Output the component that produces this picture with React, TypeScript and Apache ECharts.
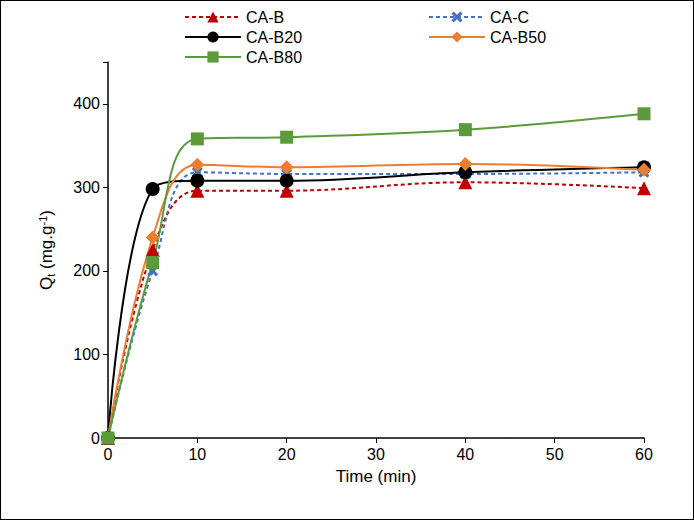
import React, { useEffect, useRef } from "react";
import * as echarts from "echarts";

const times = [0, 5, 10, 20, 40, 60];
const caB = [0, 225, 296, 296, 306, 299];
const caC = [0, 200, 318, 316, 316, 318];
const caB20 = [0, 298, 308, 308, 318, 324];
const caB50 = [0, 240, 327, 324, 328, 321];
const caB80 = [0, 210, 358, 360, 369, 388];
const crossPath = "path://M0,2L2,0L5,3L8,0L10,2L7,5L10,8L8,10L5,7L2,10L0,8L3,5Z";

export default function App() {
  const ref = useRef<HTMLDivElement>(null);
  useEffect(() => {
    const chart = echarts.init(ref.current!, null, { renderer: "svg" });
    const mk = (name: string, vals: number[], color: string, symbol: string, dashed: boolean, size: number) => ({
      name, type: "line", smooth: 0.4, data: times.map((t, i) => [t, vals[i]]),
      symbol, symbolSize: size, itemStyle: { color },
      lineStyle: { color, width: 2, type: dashed ? [4, 3] : "solid" },
    });
    const legendBase = {
      orient: "vertical", itemWidth: 56, itemHeight: 14, itemGap: 4,
      textStyle: { fontFamily: "Liberation Sans, Arial", fontSize: 16, color: "#000" },
    };
    chart.setOption({
      animation: false,
      textStyle: { fontFamily: "Liberation Sans, Arial" },
      legend: [
        { ...legendBase, left: 178, top: 3, data: ["CA-B", "CA-B20", "CA-B80"] },
        { ...legendBase, left: 422, top: 3, data: ["CA-C", "CA-B50"] },
      ],
      grid: { left: 107, right: 49, top: 61, bottom: 81 },
      xAxis: {
        type: "value", min: 0, max: 60, interval: 10,
        name: "Time (min)", nameLocation: "middle", nameGap: 30,
        nameTextStyle: { fontSize: 17, color: "#000" },
        axisLine: { lineStyle: { color: "#000", width: 1.5 } },
        axisTick: { show: true, lineStyle: { color: "#000" } },
        axisLabel: { fontSize: 16, color: "#000" },
        splitLine: { show: false },
      },
      yAxis: {
        type: "value", min: 0, max: 450, interval: 100,
        name: "Q{sub|t} (mg.g{sup|-1})", nameLocation: "middle", nameGap: 52,
        nameTextStyle: {
          fontSize: 17, color: "#000",
          rich: {
            sub: { fontSize: 11, verticalAlign: "bottom", padding: [8, 0, 0, 0], color: "#000" },
            sup: { fontSize: 11, verticalAlign: "top", padding: [0, 0, 8, 0], color: "#000" },
          },
        },
        axisLine: { show: true, lineStyle: { color: "#000", width: 1.5 } },
        axisTick: { show: true, lineStyle: { color: "#000" } },
        axisLabel: {
          fontSize: 16, color: "#000",
          formatter: (v: number) => (v <= 400 ? String(v) : ""),
        },
        splitLine: { show: false },
      },
      series: [
        mk("CA-B", caB, "#C00000", "triangle", true, 14),
        mk("CA-C", caC, "#4472C4", crossPath, true, 11),
        mk("CA-B20", caB20, "#000000", "circle", false, 14),
        mk("CA-B50", caB50, "#ED7D31", "diamond", false, 14),
        mk("CA-B80", caB80, "#5B9B3B", "rect", false, 13),
      ],
    });
    return () => chart.dispose();
  }, []);
  return (
    <div style={{ position: "absolute", left: 0, top: 0, width: 694, height: 520, boxSizing: "border-box", border: "1px solid #000", background: "#fff" }}>
      <div ref={ref} style={{ width: 692, height: 518 }} />
    </div>
  );
}
